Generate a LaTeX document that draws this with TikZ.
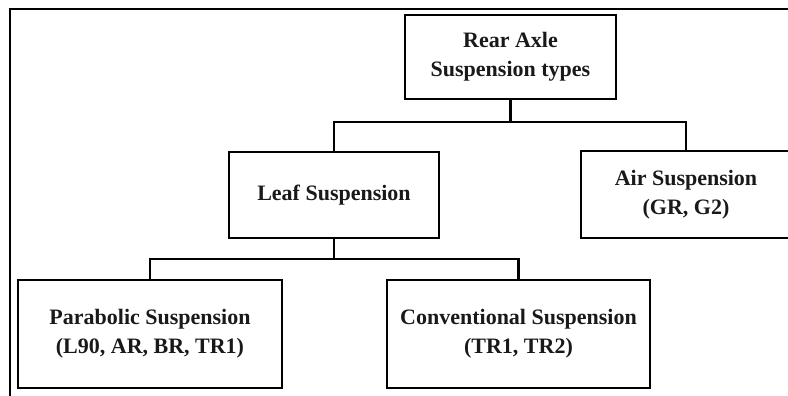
\documentclass[tikz,border=0pt]{standalone}
\usepackage{fontspec}
\setmainfont{Liberation Serif}
\begin{document}
\begin{tikzpicture}[x=1pt,y=-1pt,
  box/.style={draw=black, line width=2.2pt, inner sep=0pt, align=center,
    font=\bfseries\fontsize{22}{29}\selectfont, text=black!90},
  link/.style={draw=black, line width=2.2pt}]
  \useasboundingbox (0,0) rectangle (788,396);
  \clip (0,0) rectangle (788,396);
  % outer frame (only its top and left sides fall inside the page)
  \draw[line width=1.5pt] (10,9) rectangle (820,430);
  % boxes
  \node[box, minimum width=211pt, minimum height=84pt] (root) at (510.5,57) {Rear Axle\\Suspension types};
  \node[box, minimum width=210pt, minimum height=86pt] (leaf) at (334,195) {Leaf Suspension};
  \node[box, minimum width=210pt, minimum height=87pt] (air) at (686,194.5) {Air Suspension\\(GR, G2)};
  \node[box, minimum width=264pt, minimum height=108pt] (para) at (150,334) {Parabolic Suspension\\(L90, AR, BR, TR1)};
  \node[box, minimum width=263pt, minimum height=108pt] (conv) at (518.5,334) {Conventional Suspension\\(TR1, TR2)};
  % tree connectors
  \coordinate (j1) at (510.5,122);
  \coordinate (j2) at (334,259);
  \draw[link] (root.south) -- (j1);
  \draw[link] (leaf.north) |- (j1) -| (air.north);
  \draw[link] (leaf.south) -- (j2);
  \draw[link] (para.north) |- (j2) -| (conv.north);
\end{tikzpicture}
\end{document}
